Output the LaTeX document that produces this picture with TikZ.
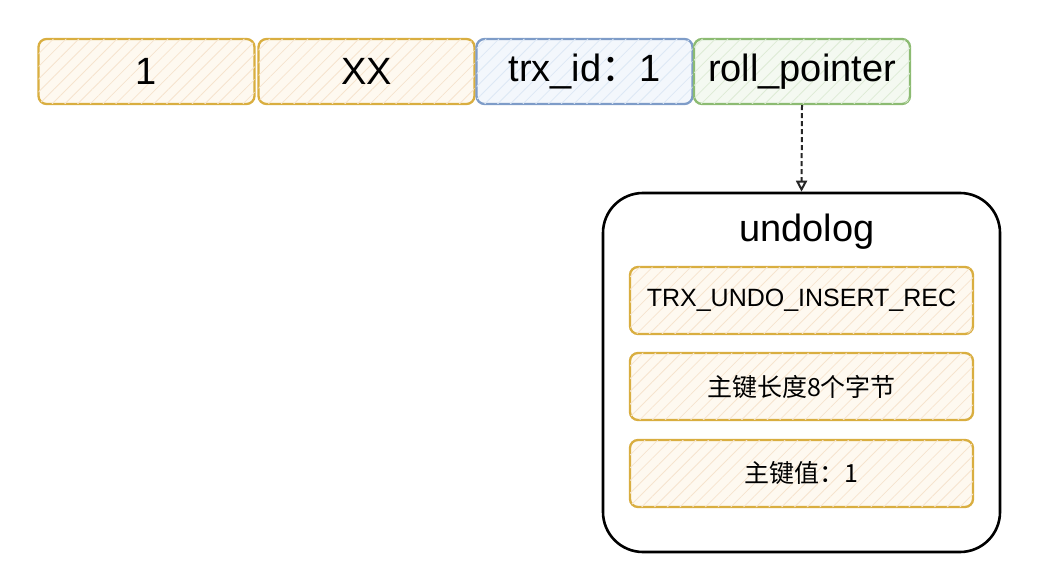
\documentclass[tikz,border=0pt]{standalone}
\usepackage{fontspec}
\setmainfont{Liberation Sans}
\newfontfamily\cjk{Noto Sans CJK SC}
\usetikzlibrary{arrows.meta,patterns.meta}
\definecolor{orgline}{HTML}{D9AE40}
\definecolor{orgfill}{HTML}{FEF9F0}
\definecolor{orghatch}{HTML}{F6E4CE}
\definecolor{blueline}{HTML}{7E9CC8}
\definecolor{bluefill}{HTML}{F3F7FC}
\definecolor{bluehatch}{HTML}{DDE8F5}
\definecolor{greenline}{HTML}{8CBB72}
\definecolor{greenfill}{HTML}{F4F9F1}
\definecolor{greenhatch}{HTML}{DDEBD5}
\tikzset{
  cell/.style={draw=#1line, line width=2.3pt, rounded corners=8pt, fill=#1fill,
    postaction={pattern={Lines[angle=45,distance=9pt,line width=0.8pt]}, pattern color=#1hatch},
    inner sep=0pt, font=\fontsize{38}{44}\selectfont},
  topcell/.style={cell=#1, minimum width=216pt, minimum height=65pt},
  reccell/.style={cell=org, minimum width=343pt, minimum height=67pt, font=\fontsize{25}{30}\selectfont},
  bigbox/.style={draw=black, line width=2.6pt, rounded corners=40pt, fill=white, minimum width=397pt, minimum height=359pt, inner sep=0pt},
  ptr/.style={draw=black!85, line width=2pt, dash pattern=on 5pt off 3pt, -{Triangle[open,length=11pt,width=11pt,line width=2pt]}}
}
\begin{document}
\begin{tikzpicture}[x=1pt,y=1pt]
\useasboundingbox (0,0) rectangle (1060,576);
\node[topcell=org] (c1) at (146.5,504.5) {\raisebox{-2pt}{1}};
\node[topcell=org] (c2) at (366.5,504.5) {\raisebox{-2pt}{XX}};
\node[topcell=blue] (c3) at (584.5,504.5) {\raisebox{-2pt}{trx\_id{\cjk ：}1}};
\node[topcell=green] (c4) at (802,504.5) {\raisebox{-2pt}{roll\_pointer}};
\node[bigbox] (undo) at (801.5,203.5) {};
\node[font=\fontsize{38}{44}\selectfont] (title) at (807,344) {undolog};
\node[reccell] (r1) at (801.5,275.5) {TRX\_UNDO\_INSERT\_REC};
\node[reccell] (r2) at (801.5,189.5) {\cjk 主键长度8个字节};
\node[reccell] (r3) at (801.5,102.5) {\cjk 主键值：1};
\draw[ptr] (c4.south) -- (undo.north);
\end{tikzpicture}
\end{document}
